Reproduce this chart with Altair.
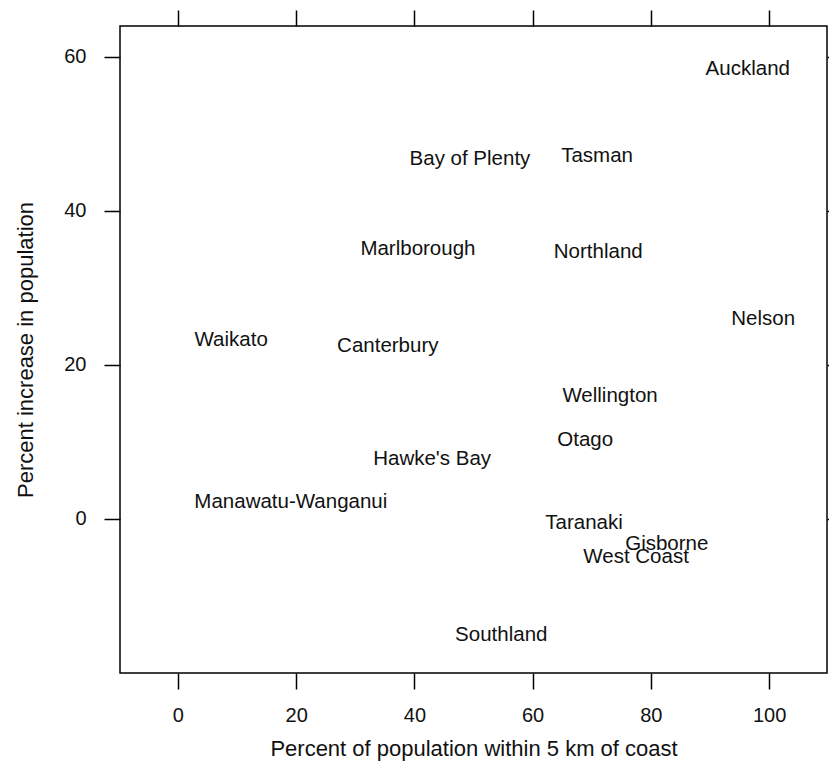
import altair as alt
import pandas as pd

regions = ["Auckland", "Bay of Plenty", "Tasman", "Marlborough", "Northland",
           "Nelson", "Waikato", "Canterbury", "Wellington", "Otago",
           "Hawke's Bay", "Manawatu-Wanganui", "Taranaki", "Gisborne",
           "West Coast", "Southland"]
coast_pct = [96.4, 49.4, 70.9, 40.6, 71.1, 99.0, 9.0, 35.5, 73.1, 68.9,
             43.0, 19.1, 68.7, 82.7, 77.5, 54.7]
pop_increase = [58.4, 46.7, 47.1, 35.0, 34.6, 25.9, 23.2, 22.5, 15.9, 10.2,
                7.8, 2.2, -0.5, -3.3, -5.0, -15.1]
x_ticks = [0, 20, 40, 60, 80, 100]
y_ticks = [0, 20, 40, 60]

df = pd.DataFrame({"region": regions, "coast": coast_pct, "increase": pop_increase})

FONT = "Liberation Sans"
xscale = alt.Scale(domain=[-9.8, 109.8], nice=False, zero=False)
yscale = alt.Scale(domain=[-20, 64], nice=False, zero=False)

common_axis = dict(grid=False, domain=False, ticks=True, tickColor="black",
                   tickWidth=1.5, tickSize=16)

base = alt.Chart(df)

labels = base.mark_text(font=FONT, fontSize=20.5, color="#111111",
                        align="center", baseline="middle").encode(
    x=alt.X("coast:Q", scale=xscale,
            axis=alt.Axis(orient="bottom", values=x_ticks,
                          title="Percent of population within 5 km of coast",
                          labelFont=FONT, labelFontSize=20, labelColor="#111111",
                          labelPadding=16, titleFont=FONT, titleFontSize=22,
                          titleFontWeight="normal", titleColor="#111111",
                          titlePadding=13, **common_axis)),
    y=alt.Y("increase:Q", scale=yscale,
            axis=alt.Axis(orient="left", values=y_ticks,
                          title="Percent increase in population",
                          labelFont=FONT, labelFontSize=20, labelColor="#111111",
                          labelPadding=18, titleFont=FONT, titleFontSize=22,
                          titleFontWeight="normal", titleColor="#111111",
                          titlePadding=26, **common_axis)),
    text="region:N",
)

ghost = base.mark_point(opacity=0).encode(
    x=alt.X("coast:Q", scale=xscale,
            axis=alt.Axis(orient="top", values=x_ticks, labels=False, title=None,
                          **common_axis)),
    y=alt.Y("increase:Q", scale=yscale,
            axis=alt.Axis(orient="right", values=y_ticks, labels=False, title=None,
                          **common_axis)),
)

chart = alt.layer(labels, ghost).resolve_axis(x="independent", y="independent").properties(
    width=707, height=647,
    autosize=alt.AutoSizeParams(type="none"),
    padding={"left": 112, "top": 18, "right": 2, "bottom": 90},
    background="white",
).configure_view(stroke="black", strokeWidth=1.5)

chart.save("out.html", embed_options={"renderer": "svg", "actions": False})
